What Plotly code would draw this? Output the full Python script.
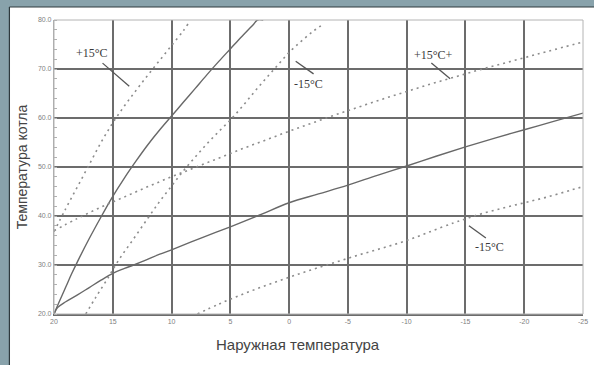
import plotly.graph_objects as go

# Boiler heating curves: outdoor temperature (x) vs boiler temperature (y)
steep_solid_x = [20, 19.5, 19, 18.5, 18, 17, 16, 15, 14, 13, 12, 11, 10, 9, 8, 7, 6, 5, 4, 3, 2.7, 2.2]
steep_solid_y = [20, 22.8, 25.5, 28.2, 30.7, 35.4, 39.8, 44, 47.8, 51.3, 54.6, 57.6, 60.4, 63.2, 66, 68.8, 71.5, 74.1, 76.7, 79.2, 80, 80]

low_solid_x = [20, 19.7, 19, 18, 17, 16, 15, 14, 13, 12, 11, 10, 7.5, 5, 2.5, 0, -2.5, -5, -7.5, -10, -12.5, -15, -17.5, -20, -22.5, -25]
low_solid_y = [20, 21.3, 22.5, 23.9, 25.4, 26.9, 28.3, 29.3, 30.2, 31.2, 32.2, 33.1, 35.5, 37.8, 40.2, 42.7, 44.5, 46.3, 48.3, 50.2, 52.2, 54.1, 55.9, 57.6, 59.3, 61]

plus15_dot_x = [20, 19, 18, 17, 16, 15, 14, 13, 12, 11, 10, 9, 8.6]
plus15_dot_y = [36.8, 41.5, 46, 50.5, 55, 59, 62.5, 65.7, 68.8, 71.8, 74.8, 77.8, 79.2]

minus15_mid_x = [17.3, 16.5, 15.5, 14.5, 13.3, 12, 11, 10, 9, 8, 7, 6, 5, 4, 3, 2, 1, 0, -1, -2, -3]
minus15_mid_y = [20, 23.2, 27, 31, 35.1, 39.6, 43, 46.1, 49.2, 52, 54.7, 57.2, 59.6, 62.3, 65.2, 68, 70.7, 73.4, 75.6, 77.6, 79.3]

plus15p_dot_x = [20, 18, 16, 14, 12, 10, 8, 6, 4, 2, 0, -2, -4, -6, -8, -10, -12, -14, -16, -18, -20, -22, -25]
plus15p_dot_y = [37, 39.5, 41.8, 43.9, 46, 48, 49.9, 51.8, 53.7, 55.5, 57.3, 59, 60.7, 62.3, 63.9, 65.4, 66.9, 68.3, 69.7, 71, 72.3, 73.6, 75.5]

minus15_low_x = [7.8, 6, 4, 2, 0, -2, -4, -6, -8, -10, -12, -14, -15, -16, -18, -20, -22, -24, -25]
minus15_low_y = [20, 22, 24, 25.8, 27.5, 29.1, 30.6, 32.1, 33.5, 35, 36.8, 38.6, 39.4, 40.2, 41.5, 42.7, 43.9, 45.3, 46]

x_ticks = [20, 15, 10, 5, 0, -5, -10, -15, -20, -25]
y_ticks = [20, 30, 40, 50, 60, 70, 80]

# curve labels: (text, text x, text y, leader start, leader end)
labels = [
    ("+15°C", 16.8, 73.3, (15.87, 71.2), (13.6, 66.5)),
    ("-15°C", -1.66, 66.9, (-0.56, 71.6), (-2.08, 69.0)),
    ("+15°C+", -12.27, 72.9, (-12.1, 71.2), (-13.7, 68.0)),
    ("-15°C", -17.08, 33.7, (-15.3, 38.0), (-16.74, 35.5)),
]

SOLID = "#686868"
DOT = "#8c8c8c"

fig = go.Figure()
for xs, ys, solid in [
    (steep_solid_x, steep_solid_y, True),
    (low_solid_x, low_solid_y, True),
    (plus15_dot_x, plus15_dot_y, False),
    (minus15_mid_x, minus15_mid_y, False),
    (plus15p_dot_x, plus15p_dot_y, False),
    (minus15_low_x, minus15_low_y, False),
]:
    fig.add_trace(go.Scatter(
        x=xs, y=ys, mode="lines", line_shape="spline",
        line=dict(color=SOLID if solid else DOT, width=1.4 if solid else 1.6,
                  dash="solid" if solid else "2px,4px"),
        hoverinfo="skip", showlegend=False,
    ))

shapes = [
    # white panel with dark top/left edge
    dict(type="rect", xref="paper", yref="paper", x0=-0.0843, x1=1.05, y0=-0.2, y1=1.0442,
         fillcolor="white", line=dict(width=0), layer="below"),
    dict(type="line", xref="paper", yref="paper", x0=-0.0843, x1=1.05, y0=1.0442, y1=1.0442,
         line=dict(color="#2e3a3e", width=1.2), layer="below"),
    dict(type="line", xref="paper", yref="paper", x0=-0.0843, x1=-0.0843, y0=-0.2, y1=1.0442,
         line=dict(color="#2e3a3e", width=1.2), layer="below"),
]
annotations = []
for text, tx, ty, (x0, y0), (x1, y1) in labels:
    shapes.append(dict(type="line", xref="x", yref="y", x0=x0, y0=y0, x1=x1, y1=y1,
                       line=dict(color="#555555", width=1.3)))
    annotations.append(dict(x=tx, y=ty, xref="x", yref="y", text=text, showarrow=False,
                            xanchor="center", yanchor="middle",
                            font=dict(family="Liberation Serif", size=12, color="#3a3a3a")))

annotations.append(dict(x=0.461, y=-0.1054, xref="paper", yref="paper", text="Наружная температура",
                        xanchor="center", yanchor="middle", showarrow=False,
                        font=dict(family="Liberation Sans", size=15, color="#444444")))
annotations.append(dict(x=-0.06, y=0.5, xref="paper", yref="paper", text="Температура котла",
                        textangle=-90, xanchor="center", yanchor="middle", showarrow=False,
                        font=dict(family="Liberation Sans", size=14, color="#444444")))

fig.update_layout(
    width=594, height=365,
    margin=dict(l=54, r=6, t=20, b=51),
    paper_bgcolor="#88a2ab",
    plot_bgcolor="white",
    shapes=shapes,
    annotations=annotations,
    xaxis=dict(range=[20, -25], tickvals=x_ticks, ticktext=[str(v) for v in x_ticks],
               showgrid=True, gridcolor="#6c6c6c", gridwidth=1.6,
               showline=True, linecolor="#6c6c6c", linewidth=2, mirror=False,
               ticks="", zeroline=False,
               tickfont=dict(family="Liberation Sans", size=7, color="#808080")),
    yaxis=dict(range=[20, 80], tickvals=y_ticks, ticktext=[f"{v:.1f}" for v in y_ticks],
               showgrid=True, gridcolor="#6c6c6c", gridwidth=1.6,
               showline=True, linecolor="#a8a8a8", linewidth=1.2, mirror=False,
               ticks="", zeroline=False,
               minor=dict(ticks="inside", dtick=2, ticklen=3, tickcolor="#b0b0b0", showgrid=False),
               tickfont=dict(family="Liberation Sans", size=7, color="#808080")),
)
fig.add_shape(type="rect", xref="paper", yref="paper", x0=0, x1=1, y0=0, y1=1,
              line=dict(color="#b4b4b4", width=1))

fig.write_html("out.html")
